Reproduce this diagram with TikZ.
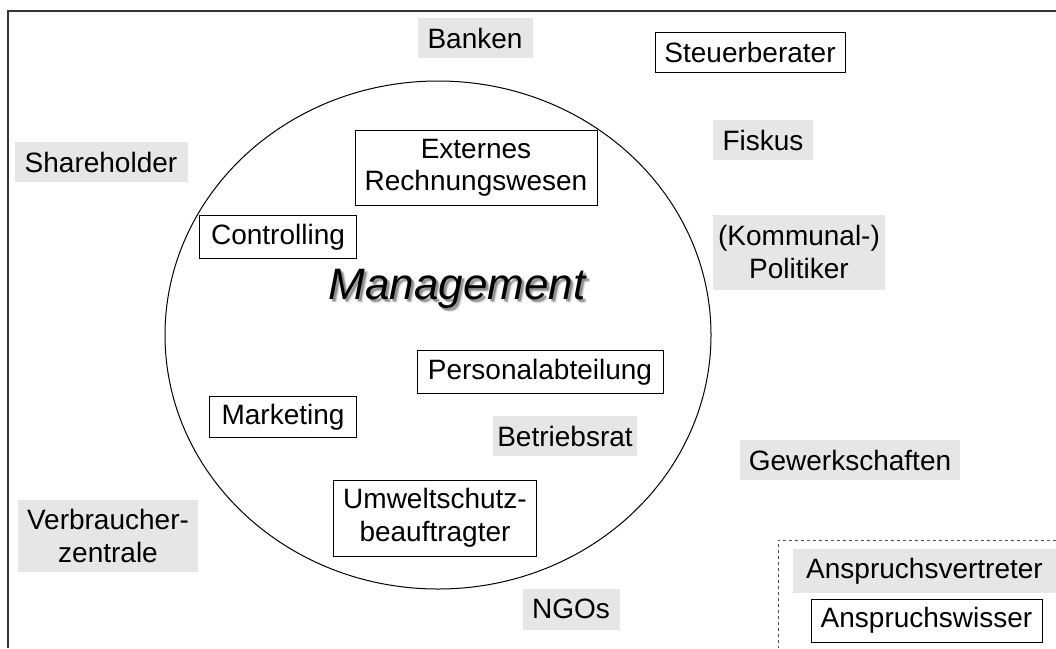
\documentclass[tikz,border=0pt]{standalone}
\usepackage{fontspec}
\setmainfont{Liberation Sans}
\definecolor{boxgray}{HTML}{E6E6E6}
\tikzset{
  lbl/.style={font=\fontsize{28}{32.5}\selectfont, align=center, inner sep=0pt, anchor=center},
  wbox/.style={lbl, draw=black, line width=1pt, fill=white},
  gbox/.style={lbl, fill=boxgray},
  mgmtfont/.style={font=\fontsize{44}{50}\selectfont\itshape, inner sep=0pt},
}
\begin{document}
\begin{tikzpicture}[x=1pt,y=-1pt]
\useasboundingbox (0,0) rectangle (1056,648);
\fill[white] (0,0) rectangle (1056,648);
% frame
\draw[line width=2pt, black!80] (8,648) -- (8,11) -- (1056,11);
% circle
\draw[line width=1pt] (438,335) ellipse [x radius=273, y radius=254];
% legend frame
\draw[dashed, line width=0.8pt, black!70] (1056,540) -- (778,540) -- (778,648);
% stakeholder nodes
\node[gbox, minimum width=115, minimum height=40] (banken) at (475,38) {Banken};
\node[wbox, minimum width=190, minimum height=40] (steuer) at (750,52) {Steuerberater};
\node[gbox, minimum width=100, minimum height=40] (fiskus) at (763,140) {Fiskus};
\node[gbox, minimum width=173, minimum height=40] (share) at (101,162) {Shareholder};
\node[wbox, minimum width=242, minimum height=75] (extern) at (476,168) {\rule{0pt}{6pt}Externes\\Rechnungswesen};
\node[wbox, minimum width=157, minimum height=43] (contr) at (278,237) {Controlling};
\node[gbox, minimum width=172, minimum height=75] (polit) at (799,252) {(Kommunal-)\\Politiker};
% Management with soft shadow
\foreach \dx/\dy/\op in {4/4/0.08, 3/3/0.12, 2/2/0.15, 3/2/0.1, 2/3/0.1}{
  \node[mgmtfont, text=black, opacity=\op] at (457+\dx,289+\dy) {Management};
}
\node[mgmtfont] (mgmt) at (457,289) {Management};
\node[wbox, minimum width=246, minimum height=43] (personal) at (540,372) {Personalabteilung};
\node[wbox, minimum width=147, minimum height=41] (market) at (283,417) {Marketing};
\node[gbox, minimum width=144, minimum height=40] (betrieb) at (565,436) {Betriebsrat};
\node[gbox, minimum width=220, minimum height=40] (gewerk) at (850,460) {Gewerkschaften};
\node[wbox, minimum width=203, minimum height=76] (umwelt) at (435,518) {Umweltschutz-\\beauftragter};
\node[gbox, minimum width=180, minimum height=72] (verbr) at (108,536) {Verbraucher-\\zentrale};
\node[gbox, minimum width=97, minimum height=41] (ngos) at (571,609) {NGOs};
% legend
\node[gbox, minimum width=263, minimum height=44] (vertreter) at (924.5,571) {Anspruchsvertreter};
\node[wbox, minimum width=231, minimum height=43] (wisser) at (926.5,620.5) {Anspruchswisser};
\end{tikzpicture}
\end{document}
